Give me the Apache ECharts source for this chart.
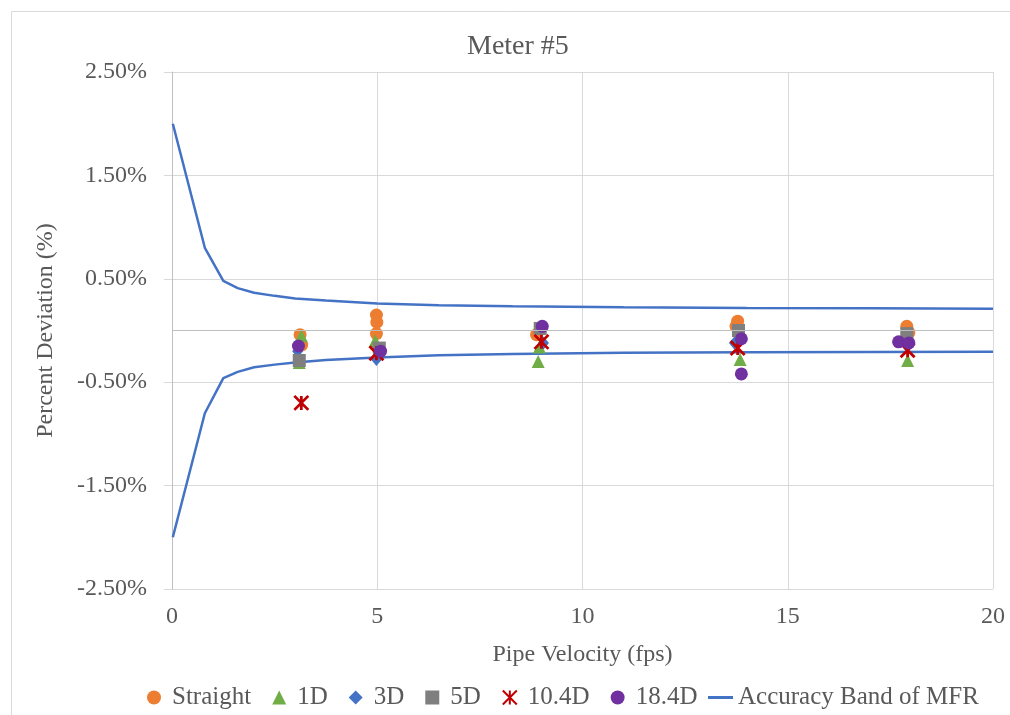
<!DOCTYPE html>
<html>
<head>
<meta charset="utf-8">
<script src="https://cdn.jsdelivr.net/npm/echarts@6/dist/echarts.min.js"></script>
<style>
  html, body { margin: 0; padding: 0; background: #fff; }
  #chart { width: 1010px; height: 715px; }
</style>
</head>
<body>
<div id="chart"></div>
<script>
// Meter #5 — percent deviation vs pipe velocity, one scatter per install config,
// plus the MFR accuracy band (upper and lower edge drawn as two lines).

// ── Data (y in percent) ─────────────────────────────────────────────────
const straight = [[3.12, -0.04], [3.16, -0.14], [4.98, 0.15], [4.99, 0.08], [4.98, -0.03],
                  [8.88, -0.04], [13.78, 0.09], [13.74, 0.04], [17.9, 0.04], [17.95, -0.02]];
const d1       = [[3.15, -0.05], [3.1, -0.31], [4.95, -0.10], [8.95, -0.16], [8.92, -0.30],
                  [13.84, -0.28], [17.92, -0.29]];
const d3       = [[3.06, -0.20], [4.98, -0.28], [9.05, -0.12], [13.7, -0.12], [17.88, -0.14]];
const d5       = [[3.1, -0.29], [5.05, -0.17], [8.97, 0.02], [13.8, 0.0], [17.9, -0.03]];
const d10_4    = [[3.15, -0.70], [4.98, -0.22], [9.0, -0.11], [13.78, -0.17], [17.92, -0.19]];
const d18_4    = [[3.08, -0.15], [5.08, -0.20], [9.02, 0.04], [13.87, -0.08], [13.87, -0.42],
                  [17.7, -0.11], [17.95, -0.12]];

const bandX     = [0.02, 0.8, 1.25, 1.6, 2.0, 2.5, 3.0, 3.75, 5.0, 6.5, 8.3, 11, 14, 17, 20];
const bandUpper = [2.0, 0.80, 0.48, 0.41, 0.365, 0.335, 0.31, 0.29, 0.262, 0.245, 0.235, 0.225, 0.218, 0.214, 0.211];
const bandLower = [-2.0, -0.80, -0.46, -0.40, -0.355, -0.33, -0.31, -0.285, -0.26, -0.24, -0.227, -0.215, -0.21, -0.207, -0.205];

const yTicksMin = -2.5, yTicksMax = 2.5, yStep = 1;

// ── Style ───────────────────────────────────────────────────────────────
const FONT = '"Liberation Serif", "Times New Roman", serif';
const TXT = '#595959';
const GRID = '#d9d9d9';
const BLUE = '#4472C4';
const STAR = 'path://M0,0L10,10M10,0L0,10M5,0L5,10';
const BAND = 'Accuracy Band of MFR';

const scatter = (name, data, symbol, color, size, extra) => ({
  name, type: 'scatter', data, symbol, symbolSize: size,
  itemStyle: { color, opacity: 1 }, z: 3, ...extra,
});

const band = (vals, withZero) => ({
  name: BAND, type: 'line', symbol: 'none', z: 2,
  itemStyle: { color: BLUE },
  lineStyle: { color: BLUE, width: 2.5 },
  data: bandX.map((x, i) => [x, vals[i]]),
  markLine: withZero ? {
    silent: true, symbol: 'none', label: { show: false },
    lineStyle: { color: '#bfbfbf', width: 1, type: 'solid' },
    data: [{ yAxis: 0 }],
  } : undefined,
});

const chart = echarts.init(document.getElementById('chart'));
chart.setOption({
  animation: false,
  backgroundColor: '#fff',
  textStyle: { fontFamily: FONT, color: TXT },
  graphic: [{
    type: 'rect', silent: true,
    shape: { x: 11.5, y: 11.5, width: 1010, height: 720 },
    style: { fill: 'none', stroke: GRID, lineWidth: 1 },
  }],
  title: {
    text: 'Meter #5', left: 462, top: 28,
    textStyle: { fontFamily: FONT, fontSize: 28, fontWeight: 'normal', color: TXT },
  },
  grid: { left: 172, right: 17, top: 72, bottom: 126 },
  xAxis: {
    type: 'value', min: 0, max: 20, interval: 5,
    name: 'Pipe Velocity (fps)', nameLocation: 'middle', nameGap: 54,
    nameTextStyle: { fontFamily: FONT, fontSize: 24, color: TXT },
    axisLine: { show: false }, axisTick: { show: false },
    axisLabel: { fontFamily: FONT, fontSize: 24, color: TXT, margin: 16 },
    splitLine: { lineStyle: { color: GRID, width: 1 } },
  },
  yAxis: {
    type: 'value', min: yTicksMin, max: yTicksMax, interval: yStep,
    name: 'Percent Deviation (%)', nameLocation: 'middle', nameGap: 114,
    nameTextStyle: { fontFamily: FONT, fontSize: 24, color: TXT },
    axisLine: { show: true, onZero: false, lineStyle: { color: '#bfbfbf' } },
    axisTick: { show: true, length: 8, lineStyle: { color: GRID } },
    axisLabel: { fontFamily: FONT, fontSize: 24, color: TXT, margin: 25,
      formatter: (v) => v.toFixed(2) + '%' },
    splitLine: { lineStyle: { color: GRID, width: 1 } },
  },
  legend: [{
    data: ['Straight', '1D', '3D', '5D', '10.4D', '18.4D'],
    left: 142, top: 680, itemWidth: 14, itemHeight: 14, itemGap: 21,
    textStyle: { fontFamily: FONT, fontSize: 25, color: TXT, padding: [0, 0, 0, 6] },
  }, {
    data: [BAND], icon: 'rect',
    left: 703, top: 680, itemWidth: 25, itemHeight: 3, itemGap: 0,
    textStyle: { fontFamily: FONT, fontSize: 25, color: TXT },
  }],
  series: [
    band(bandUpper, true),
    band(bandLower, false),
    scatter('Straight', straight, 'circle', '#ED7D31', 13),
    scatter('1D', d1, 'triangle', '#70AD47', 13),
    scatter('3D', d3, 'diamond', BLUE, [11, 13]),
    scatter('5D', d5, 'rect', '#7F7F7F', 13),
    scatter('10.4D', d10_4, STAR, 'transparent', 14,
      { itemStyle: { color: 'transparent', borderColor: '#C00000', borderWidth: 2.8, opacity: 1 } }),
    scatter('18.4D', d18_4, 'circle', '#7030A0', 13),
  ],
});
</script>
</body>
</html>
